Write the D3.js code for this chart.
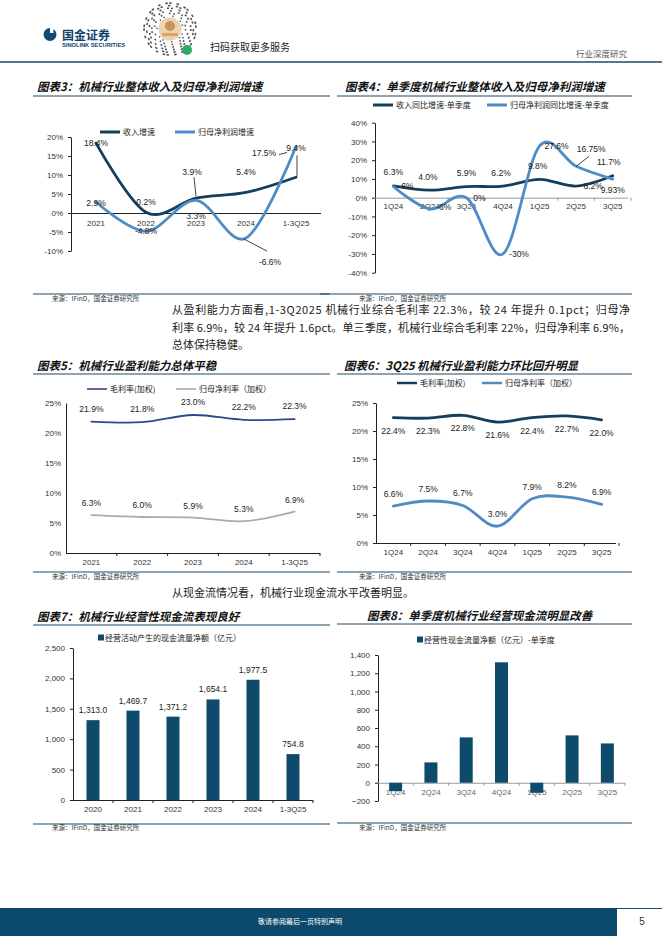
<!DOCTYPE html>
<html>
<head>
<meta charset="utf-8">
<script src="https://cdn.jsdelivr.net/npm/d3@7"></script>
<style>
  body { margin: 0; background: #fff; }
  svg { display: block; }
</style>
</head>
<body>
<div id="page"></div>
<script>
var yearCats = ["2021", "2022", "2023", "2024", "1-3Q25"];
var revGrowth = [18.4, 0.2, 3.9, 5.4, 9.4];
var profitGrowth = [2.9, -4.8, 3.3, -6.6, 17.5];

var qCats = ["1Q24", "2Q24", "3Q24", "4Q24", "1Q25", "2Q25", "3Q25"];
var qRevGrowth = [6.3, 4.0, 5.9, 6.2, 9.8, 6.2, 11.7];
var qProfitGrowth = [6, -6, 0, -30, 27.6, 16.75, 9.93];

var grossMargin = [21.9, 21.8, 23.0, 22.2, 22.3];
var netMargin = [6.3, 6.0, 5.9, 5.3, 6.9];

var qGrossMargin = [22.4, 22.3, 22.8, 21.6, 22.4, 22.7, 22.0];
var qNetMargin = [6.6, 7.5, 6.7, 3.0, 7.9, 8.2, 6.9];

var cfCats = ["2020", "2021", "2022", "2023", "2024", "1-3Q25"];
var cashFlow = [1313.0, 1469.7, 1371.2, 1654.1, 1977.5, 754.8];
var qCashFlow = [-92, 223, 497, 1320, -110, 519, 431];

var pctTicks1 = [-10, -5, 0, 5, 10, 15, 20];
var pctTicks2 = [-40, -30, -20, -10, 0, 10, 20, 30, 40];
var pctTicks3 = [0, 5, 10, 15, 20, 25];
var cfTicks = [0, 500, 1000, 1500, 2000, 2500];
var qcfTicks = [-200, 0, 200, 400, 600, 800, 1000, 1200, 1400];

var fontSans = "'Liberation Sans', Arial, 'Noto Sans CJK SC', sans-serif";
var fontCJK = "'Noto Sans CJK SC', sans-serif";
var teal = "#1b4a6b";
var dark = "#143f5c";
var light = "#4f8cc6";
var barColor = "#0e4a6b";

var svg = d3.select("#page").append("svg")
  .attr("width", 662)
  .attr("height", 936);

// ---- page header ----
svg.append("circle").attr("cx", 50).attr("cy", 34.5).attr("r", 6.5).attr("fill", "#0f4a75");
svg.append("rect").attr("x", 50).attr("y", 27).attr("width", 3.5).attr("height", 6).attr("fill", "#fff");
svg.append("text").attr("x", 62).attr("y", 39.5).text("国金证券")
  .style("font-family", fontCJK).style("font-size", "12px").style("font-weight", "bold").attr("fill", "#0f3f6e");
svg.append("text").attr("x", 62).attr("y", 47).text("SINOLINK SECURITIES")
  .attr("textLength", 63).attr("lengthAdjust", "spacingAndGlyphs")
  .style("font-family", fontSans).style("font-size", "5px").style("font-weight", "bold").attr("fill", "#0f3f6e");

// mini program code (decorative)
var qr = svg.append("g").attr("transform", "translate(170,29)");
for (var ring = 0; ring < 6; ring++) {
  var r = 13 + ring * 2.6;
  var n = 18 + ring * 5;
  for (var k = 0; k < n; k++) {
    if ((k * 7 + ring * 3) % 5 < 2) continue;
    var a = k / n * 2 * Math.PI;
    qr.append("line")
      .attr("x1", Math.cos(a) * r).attr("y1", Math.sin(a) * r)
      .attr("x2", Math.cos(a + 0.1) * r).attr("y2", Math.sin(a + 0.1) * r)
      .attr("stroke", "#555").attr("stroke-width", 1.6);
  }
}
qr.append("circle").attr("r", 11.5).attr("fill", "#ecd3b0");
qr.append("circle").attr("r", 5).attr("cy", -3).attr("fill", "#c9935f");
qr.append("rect").attr("x", -8).attr("y", 4).attr("width", 16).attr("height", 3).attr("fill", "#d9a36b");
svg.append("circle").attr("cx", 187).attr("cy", 50).attr("r", 5).attr("fill", "#2aae67");

svg.append("text").attr("x", 210).attr("y", 51).text("扫码获取更多服务")
  .style("font-family", fontCJK).style("font-size", "10px").attr("fill", "#222");
svg.append("text").attr("x", 627).attr("y", 57).attr("text-anchor", "end").text("行业深度研究")
  .style("font-family", fontCJK).style("font-size", "8.5px").attr("fill", "#555");
svg.append("line").attr("x1", 0).attr("x2", 662).attr("y1", 62).attr("y2", 62)
  .attr("stroke", teal).attr("stroke-width", 1.4);

// ---- helpers ----
function title(x, y, text, rx1, rx2, ry) {
  svg.append("text").attr("x", x).attr("y", y).text(text)
    .style("font-family", fontCJK).style("font-size", "11.5px")
    .style("font-weight", "bold").style("font-style", "italic").attr("fill", "#111");
  svg.append("line").attr("x1", rx1).attr("x2", rx2).attr("y1", ry).attr("y2", ry)
    .attr("stroke", teal).attr("stroke-width", 1.2);
}

function source(x, y, rx1, rx2, ry) {
  svg.append("line").attr("x1", rx1).attr("x2", rx2).attr("y1", ry).attr("y2", ry)
    .attr("stroke", teal).attr("stroke-width", 1.2);
  svg.append("text").attr("x", x).attr("y", y).text("来源：IFinD，国金证券研究所")
    .style("font-family", fontCJK).style("font-size", "6.5px").attr("fill", "#333");
}

function legendLine(x, y, color, text, w) {
  svg.append("line").attr("x1", x).attr("x2", x + 20).attr("y1", y).attr("y2", y)
    .attr("stroke", color).attr("stroke-width", w);
  svg.append("text").attr("x", x + 23).attr("y", y + 3).text(text)
    .style("font-family", fontCJK).style("font-size", "8px").attr("fill", "#222");
}

function legendBox(x, y, text) {
  svg.append("rect").attr("x", x).attr("y", y - 3.5).attr("width", 6).attr("height", 6).attr("fill", barColor);
  svg.append("text").attr("x", x + 7).attr("y", y + 3).text(text)
    .style("font-family", fontCJK).style("font-size", "8px").attr("fill", "#222");
}

function styleAxis(sel, color) {
  sel.selectAll("path").attr("stroke", color);
  sel.selectAll("line").attr("stroke", color);
  sel.selectAll("text").style("font-family", fontSans).style("font-size", "8px").attr("fill", "#333");
}

// builds axes for a category chart and returns its scales
function frame(o) {
  var x = d3.scaleBand().domain(o.cats).range(o.xRange);
  var y = d3.scaleLinear().domain(o.yDomain).range(o.yRange);
  var ya = svg.append("g").attr("transform", "translate(" + o.xRange[0] + ",0)")
    .call(d3.axisLeft(y).tickValues(o.yTicks).tickFormat(o.yFmt)
      .tickSizeInner(o.yTickSize).tickSizeOuter(0).tickPadding(5));
  styleAxis(ya, "#222");
  var xa = svg.append("g").attr("transform", "translate(0," + y(0) + ")")
    .call(d3.axisBottom(x).tickSize(0).tickPadding(o.xPad));
  styleAxis(xa, o.xAxisColor || "#222");
  xa.select("path").attr("d", "M" + o.xRange[0] + ",0.5H" + o.xEnd);
  if (o.xTicks) {
    xa.selectAll(".sep").data(d3.range(1, o.cats.length + 1)).enter().append("line")
      .attr("x1", function (i) { return o.xRange[0] + i * x.step(); })
      .attr("x2", function (i) { return o.xRange[0] + i * x.step(); })
      .attr("y1", 0).attr("y2", 3).attr("stroke", o.xAxisColor || "#222");
  }
  return { x: x, y: y, g: xa };
}

function drawLine(f, values, color, width) {
  var line = d3.line()
    .x(function (d, i) { return f.x(f.x.domain()[i]) + f.x.bandwidth() / 2; })
    .y(function (d) { return f.y(d); })
    .curve(d3.curveCardinal.tension(0));
  svg.append("path").datum(values).attr("d", line)
    .attr("fill", "none").attr("stroke", color).attr("stroke-width", width)
    .attr("stroke-linecap", "round");
}

// offsets: [dx, dy] of label centre from point; leader: optional [x1,y1,x2,y2] offsets
function labels(f, values, fmt, offsets, leaders) {
  values.forEach(function (v, i) {
    var px = f.x(f.x.domain()[i]) + f.x.bandwidth() / 2;
    var py = f.y(v);
    var off = offsets[i];
    if (leaders && leaders[i]) {
      var L = leaders[i];
      svg.append("line").attr("x1", px + L[0]).attr("y1", py + L[1])
        .attr("x2", px + L[2]).attr("y2", py + L[3])
        .attr("stroke", "#111").attr("stroke-width", 0.8);
    }
    svg.append("text").attr("x", px + off[0]).attr("y", py + off[1]).attr("dy", "0.35em")
      .attr("text-anchor", "middle").text(fmt(v))
      .style("font-family", fontSans).style("font-size", "8.5px").attr("fill", "#222");
  });
}

function bars(f, values, fmt) {
  var w = 13;
  svg.append("g").selectAll("rect").data(values).enter().append("rect")
    .attr("x", function (d, i) { return f.x(f.x.domain()[i]) + f.x.bandwidth() / 2 - w / 2; })
    .attr("y", function (d) { return f.y(Math.max(0, d)); })
    .attr("width", w)
    .attr("height", function (d) { return Math.abs(f.y(d) - f.y(0)); })
    .attr("fill", barColor);
  if (fmt) {
    svg.append("g").selectAll("text").data(values).enter().append("text")
      .attr("x", function (d, i) { return f.x(f.x.domain()[i]) + f.x.bandwidth() / 2; })
      .attr("y", function (d) { return f.y(d) - 10; })
      .attr("dy", "0.35em").attr("text-anchor", "middle")
      .text(fmt)
      .style("font-family", fontSans).style("font-size", "8.5px").attr("fill", "#222");
  }
}

var pct = function (d) { return d + "%"; };
var pct1 = function (d) { return d.toFixed(1) + "%"; };
var comma = d3.format(",");
var comma1 = d3.format(",.1f");

// ---- chart 3 ----
title(37, 91, "图表3：机械行业整体收入及归母净利润增速", 33, 330, 96);
legendLine(100, 132, dark, "收入增速", 3);
legendLine(175, 132, light, "归母净利润增速", 3);
var f3 = frame({ cats: yearCats, xRange: [71, 321], xEnd: 321, yDomain: [-10, 20], yRange: [251, 137],
  yTicks: pctTicks1, yFmt: pct, yTickSize: 3, xPad: 7 });
drawLine(f3, revGrowth, dark, 2.8);
drawLine(f3, profitGrowth, light, 2.8);
labels(f3, revGrowth, pct1, [[0, 0], [0, -10], [-4, -26], [0, -20], [0, -29]],
  [null, null, [-2, -21, 0, -2], null, [1, -22, 1, -1]]);
labels(f3, profitGrowth, pct1, [[0, 1], [0, 0], [0, 16], [24, 24], [-32, 7]],
  [null, null, null, [-2, 1, 21, 13], [-17, 8, -9, 6]]);
source(52, 300.5, 33, 330, 294);

// ---- chart 4 ----
title(345, 91, "图表4：单季度机械行业整体收入及归母净利润增速", 337, 632, 96);
legendLine(373, 105, dark, "收入同比增速-单季度", 3);
legendLine(487, 105, light, "归母净利润同比增速-单季度", 3);
var f4 = frame({ cats: qCats, xRange: [375, 631], xEnd: 628, yDomain: [-40, 40], yRange: [272.7, 122.7],
  yTicks: pctTicks2, yFmt: pct, yTickSize: 3, xPad: 6, xAxisColor: "#999", xTicks: true });
drawLine(f4, qRevGrowth, dark, 2.8);
drawLine(f4, qProfitGrowth, light, 2.8);
labels(f4, qRevGrowth, pct1, [[0, -14], [-2, -13], [0, -14], [-2, -13], [-2, -13], [17, 0], [-4, -14]],
  [null, null, null, null, null, [2, 0, 5, 0], null]);
labels(f4, qProfitGrowth, pct, [[14, 0], [14, -2], [13, 0], [16, 0], [17, 0], [15, -17], [0, 11]],
  [null, null, null, null, null, [0, 0, 13, -10], null]);
source(359, 300.5, 320, 632, 294);

// ---- paragraph ----
var para = [
  "从盈利能力方面看,1-3Q2025 机械行业综合毛利率 22.3%，较 24 年提升 0.1pct；归母净",
  "利率 6.9%，较 24 年提升 1.6pct。单三季度，机械行业综合毛利率 22%，归母净利率 6.9%，",
  "总体保持稳健。"
];
para.forEach(function (t, i) {
  var tx = svg.append("text").attr("x", 172).attr("y", 314 + i * 17.5).text(t)
    .style("font-family", fontCJK).style("font-size", "11px").attr("fill", "#222");
  if (i < 2) tx.attr("textLength", 458).attr("lengthAdjust", "spacing");
});

// ---- chart 5 ----
title(37, 370, "图表5：机械行业盈利能力总体平稳", 33, 330, 374);
legendLine(87, 389, "#2a4a8a", "毛利率(加权)", 1.6);
legendLine(176, 389, "#aaaaaa", "归母净利率（加权）", 1.6);
var f5 = frame({ cats: yearCats, xRange: [66, 320], xEnd: 320, yDomain: [0, 25], yRange: [553, 403],
  yTicks: pctTicks3, yFmt: pct, yTickSize: 0, xPad: 6, xTicks: true });
drawLine(f5, grossMargin, "#2a4a8a", 1.8);
drawLine(f5, netMargin, "#aaaaaa", 1.8);
labels(f5, grossMargin, pct1, grossMargin.map(function () { return [0, -13]; }));
labels(f5, netMargin, pct1, netMargin.map(function () { return [0, -12]; }));
source(52, 579, 33, 330, 572);

// ---- chart 6 ----
title(344, 370, "图表6：3Q25 机械行业盈利能力环比回升明显", 337, 632, 374);
legendLine(397, 383, dark, "毛利率(加权)", 2.5);
legendLine(482, 383, light, "归母净利率（加权）", 2.5);
var f6 = frame({ cats: qCats, xRange: [376, 619], xEnd: 616, yDomain: [0, 25], yRange: [543, 403],
  yTicks: pctTicks3, yFmt: pct, yTickSize: 3, xPad: 6, xTicks: true });
drawLine(f6, qGrossMargin, dark, 2.8);
drawLine(f6, qNetMargin, light, 2.8);
labels(f6, qGrossMargin, pct1, qGrossMargin.map(function () { return [0, 13]; }));
labels(f6, qNetMargin, pct1, qNetMargin.map(function () { return [0, -12]; }));
source(359, 579, 337, 632, 572);

svg.append("text").attr("x", 172).attr("y", 597).text("从现金流情况看，机械行业现金流水平改善明显。")
  .style("font-family", fontCJK).style("font-size", "11px").attr("fill", "#222");

// ---- chart 7 ----
title(37, 621, "图表7：机械行业经营性现金流表现良好", 33, 330, 625);
legendBox(98, 638, "经营活动产生的现金流量净额（亿元）");
var f7 = frame({ cats: cfCats, xRange: [73, 313], xEnd: 313, yDomain: [0, 2500], yRange: [800, 648],
  yTicks: cfTicks, yFmt: comma, yTickSize: 3, xPad: 6, xTicks: true });
bars(f7, cashFlow, comma1);
source(52, 830, 33, 330, 824);

// ---- chart 8 ----
title(367, 620, "图表8：单季度机械行业经营现金流明显改善", 337, 632, 624);
legendBox(417, 640, "经营性现金流量净额（亿元）-单季度");
var f8 = frame({ cats: qCats, xRange: [378, 625], xEnd: 625, yDomain: [-200, 1400], yRange: [801, 655],
  yTicks: qcfTicks, yFmt: comma, yTickSize: 3, xPad: 7, xAxisColor: "#999", xTicks: true });
f8.g.selectAll("text").attr("fill", "#666");
bars(f8, qCashFlow, null);
source(359, 830, 337, 632, 823);

// ---- footer ----
svg.append("rect").attr("x", 0).attr("y", 908).attr("width", 617).attr("height", 28).attr("fill", "#0b4a6c");
svg.append("line").attr("x1", 617).attr("x2", 662).attr("y1", 908.5).attr("y2", 908.5).attr("stroke", teal);
svg.append("text").attr("x", 300).attr("y", 924).attr("text-anchor", "middle").text("敬请参阅最后一页特别声明")
  .style("font-family", fontCJK).style("font-size", "7px").attr("fill", "#fff");
svg.append("text").attr("x", 642).attr("y", 925).attr("text-anchor", "middle").text("5")
  .style("font-family", fontSans).style("font-size", "10px").attr("fill", "#333");
</script>
</body>
</html>
